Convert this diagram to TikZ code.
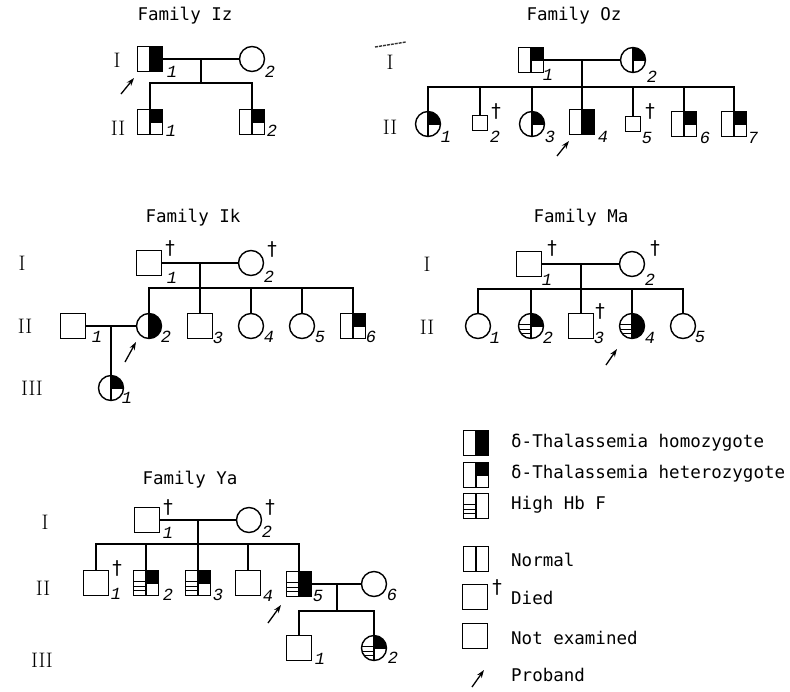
\documentclass[tikz,border=0pt]{standalone}
\usepackage{fontspec}
\newfontfamily\ttf{DejaVu Sans Mono}
\newfontfamily\numf{Liberation Mono}
\newfontfamily\dgf{DejaVu Sans}
\usetikzlibrary{arrows.meta,calc}
\newcommand{\hbfstripes}{\foreach \f in {0.45,0.62,0.79}{\draw[line width=0.9pt] ($(path picture bounding box.north west)!\f!(path picture bounding box.south west)$) -- ($(path picture bounding box.north)!\f!(path picture bounding box.south)$);}}
\newcommand{\cvline}{\draw[line width=1.2pt] (path picture bounding box.north) -- (path picture bounding box.south);}
\newcommand{\rhalf}{\fill (path picture bounding box.north) rectangle (path picture bounding box.south east);}
\newcommand{\rquarter}{\fill (path picture bounding box.north) rectangle (path picture bounding box.east);\draw[line width=1.2pt] (path picture bounding box.center) -- (path picture bounding box.east);}
\tikzset{
  base/.style={draw, line width=1.4pt, inner sep=0pt, minimum size=25pt},
  sq/.style={base, rectangle},
  ci/.style={base, circle},
  smallsq/.style={base, rectangle, minimum size=15pt},
  homoz/.style={path picture={\rhalf\cvline}},
  hetz/.style={path picture={\rquarter\cvline}},
  normz/.style={path picture={\cvline}},
  hbff/.style={path picture={\hbfstripes\cvline}},
  hethbf/.style={path picture={\rquarter\hbfstripes\cvline}},
  homhbf/.style={path picture={\rhalf\hbfstripes\cvline}},
  title/.style={font=\ttf\fontsize{17.5}{20}\selectfont, inner sep=0pt},
  legtext/.style={font=\ttf\fontsize{17.5}{20}\selectfont, inner sep=0pt, anchor=west, text height=12pt, text depth=3pt},
  gen/.style={font=\fontsize{21}{24}\selectfont, inner sep=0pt},
  num/.style={font=\numf\itshape\fontsize{17}{19}\selectfont, inner sep=0pt},
  dg/.style={font=\dgf\fontsize{19}{21}\selectfont, inner sep=0pt},
  line/.style={line width=1.4pt},
  proband/.style={line width=1.3pt, -{Stealth[length=8pt,width=5.5pt]}},
}
\begin{document}
\begin{tikzpicture}[x=1pt,y=-1pt]
\useasboundingbox (0,0) rectangle (790,691);
\fill[white] (0,0) rectangle (790,691);

% ---------------- Family Iz ----------------
\node[title] (tiz) at (185,16) {Family Iz};
\node[gen] (gIz1) at (117,60) {I};
\node[gen] (gIz2) at (118,128) {II};
\node[sq,homoz] (iz11) at (150,59) {};
\node[ci] (iz12) at (252,59) {};
\draw[line] (iz11) -- (iz12);
\coordinate (izm) at (201,59);
\coordinate (izs) at (201,83);
\draw[line] (izm) -- (izs);
\node[sq,hetz] (iz21) at (150,122) {};
\node[sq,hetz] (iz22) at (252,122) {};
\draw[line] (iz21.north) |- (izs) -| (iz22.north);
\node[num] (niz11) at (172,72) {1};
\node[num] (niz12) at (270,72) {2};
\node[num] (niz21) at (171,131) {1};
\node[num] (niz22) at (272,131) {2};
\coordinate (izpa) at (121,94);
\coordinate (izpb) at (134,78);
\draw[proband] (izpa) -- (izpb);

% ---------------- Family Oz ----------------
\node[title] (toz) at (574,16) {Family Oz};
\draw[line width=1.4pt, black!80, dash pattern=on 3pt off 1pt] (375,47) -- (406,42);
\node[gen] (gOz1) at (390,62) {I};
\node[gen] (gOz2) at (390,127) {II};
\node[sq,hetz] (oz11) at (531,60) {};
\node[ci,hetz] (oz12) at (633,60) {};
\draw[line] (oz11) -- (oz12);
\coordinate (ozm) at (582,60);
\coordinate (ozL) at (428,87);
\coordinate (ozR) at (734,87);
\node[ci,hetz] (oz21) at (428,124) {};
\node[smallsq] (oz22) at (480,123) {};
\node[ci,hetz] (oz23) at (532,124) {};
\node[sq,homoz] (oz24) at (582,122) {};
\node[smallsq] (oz25) at (633,124) {};
\node[sq,hetz] (oz26) at (684,124) {};
\node[sq,hetz] (oz27) at (734,124) {};
\draw[line] (oz21.north) -- (ozL) -- (ozR) -- (oz27.north);
\draw[line] (ozm) -- (oz24.north);
\foreach \c in {oz22,oz23,oz25,oz26} \draw[line] (\c.north) -- (\c.north |- ozL);
\node[num] (noz11) at (548,75) {1};
\node[num] (noz12) at (652,77) {2};
\node[num] (noz21) at (446,137) {1};
\node[num] (noz22) at (495,137) {2};
\node[dg] (doz22) at (496,111) {†};
\node[num] (noz23) at (550,137) {3};
\node[num] (noz24) at (603,137) {4};
\node[num] (noz25) at (647,138) {5};
\node[dg] (doz25) at (650,111) {†};
\node[num] (noz26) at (705,138) {6};
\node[num] (noz27) at (753,138) {7};
\coordinate (ozpa) at (557,156);
\coordinate (ozpb) at (569,141);
\draw[proband] (ozpa) -- (ozpb);

% ---------------- Family Ik ----------------
\node[title] (tik) at (193,218) {Family Ik};
\node[gen] (gIk1) at (22,263) {I};
\node[gen] (gIk2) at (25,326) {II};
\node[gen] (gIk3) at (32,388) {III};
\node[sq] (ik11) at (149,263) {};
\node[ci] (ik12) at (251,263) {};
\draw[line] (ik11) -- (ik12);
\coordinate (ikm) at (200,263);
\coordinate (ikL) at (149,288);
\coordinate (ikR) at (353,288);
\node[sq] (ik21) at (73,326) {};
\node[ci,homoz] (ik22) at (149,326) {};
\node[sq] (ik23) at (200,326) {};
\node[ci] (ik24) at (251,326) {};
\node[ci] (ik25) at (302,326) {};
\node[sq,hetz] (ik26) at (353,326) {};
\draw[line] (ikm) -- (ik23.north);
\draw[line] (ik22.north) -- (ikL) -- (ikR) -- (ik26.north);
\foreach \c in {ik24,ik25} \draw[line] (\c.north) -- (\c.north |- ikL);
\draw[line] (ik21) -- (ik22);
\coordinate (ikm2) at (111,326);
\node[ci,hetz] (ik31) at (111,388) {};
\draw[line] (ikm2) -- (ik31.north);
\node[dg] (dik11) at (170,248) {†};
\node[num] (nik11) at (172,278) {1};
\node[dg] (dik12) at (272,249) {†};
\node[num] (nik12) at (269,277) {2};
\node[num] (nik21) at (97,337) {1};
\node[num] (nik22) at (166,337) {2};
\node[num] (nik23) at (218,338) {3};
\node[num] (nik24) at (269,337) {4};
\node[num] (nik25) at (320,337) {5};
\node[num] (nik26) at (371,337) {6};
\node[num] (nik31) at (127,398) {1};
\coordinate (ikpa) at (125,362);
\coordinate (ikpb) at (136,342);
\draw[proband] (ikpa) -- (ikpb);

% ---------------- Family Ma ----------------
\node[title] (tma) at (581,218) {Family Ma};
\node[gen] (gMa1) at (427,264) {I};
\node[gen] (gMa2) at (427,327) {II};
\node[sq] (ma11) at (529,264) {};
\node[ci] (ma12) at (632,264) {};
\draw[line] (ma11) -- (ma12);
\coordinate (mam) at (581,264);
\coordinate (maL) at (478,289);
\coordinate (maR) at (683,289);
\node[ci] (ma21) at (478,326) {};
\node[ci,hethbf] (ma22) at (531,326) {};
\node[sq] (ma23) at (581,326) {};
\node[ci,homhbf] (ma24) at (632,326) {};
\node[ci] (ma25) at (683,326) {};
\draw[line] (mam) -- (ma23.north);
\draw[line] (ma21.north) -- (maL) -- (maR) -- (ma25.north);
\foreach \c in {ma22,ma24} \draw[line] (\c.north) -- (\c.north |- maL);
\node[dg] (dma11) at (552,248) {†};
\node[num] (nma11) at (547,280) {1};
\node[dg] (dma12) at (655,248) {†};
\node[num] (nma12) at (650,280) {2};
\node[num] (nma21) at (495,338) {1};
\node[num] (nma22) at (548,338) {2};
\node[dg] (dma23) at (600,311) {†};
\node[num] (nma23) at (599,338) {3};
\node[num] (nma24) at (650,338) {4};
\node[num] (nma25) at (700,337) {5};
\coordinate (mapa) at (606,365);
\coordinate (mapb) at (617,349);
\draw[proband] (mapa) -- (mapb);

% ---------------- Family Ya ----------------
\node[title] (tya) at (190,480) {Family Ya};
\node[gen] (gYa1) at (45,522) {I};
\node[gen] (gYa2) at (43,588) {II};
\node[gen] (gYa3) at (42,660) {III};
\node[sq] (ya11) at (147,520) {};
\node[ci] (ya12) at (249,520) {};
\draw[line] (ya11) -- (ya12);
\coordinate (yam) at (198,520);
\coordinate (yaL) at (96,544);
\coordinate (yaR) at (299,544);
\node[sq] (ya21) at (96,583) {};
\node[sq,hethbf] (ya22) at (146,583) {};
\node[sq,hethbf] (ya23) at (198,583) {};
\node[sq] (ya24) at (248,583) {};
\node[sq,homhbf] (ya25) at (299,584) {};
\node[ci] (ya26) at (374,584) {};
\draw[line] (yam) -- (ya23.north);
\draw[line] (ya21.north) -- (yaL) -- (yaR) -- (ya25.north);
\foreach \c in {ya22,ya24} \draw[line] (\c.north) -- (\c.north |- yaL);
\draw[line] (ya25) -- (ya26);
\coordinate (yam2) at (337,584);
\coordinate (yas2) at (337,611);
\coordinate (yaL2) at (299,611);
\coordinate (yaR2) at (374,611);
\node[sq] (ya31) at (299,648) {};
\node[ci,hethbf] (ya32) at (374,648) {};
\draw[line] (yam2) -- (yas2);
\draw[line] (ya31.north) -- (yaL2) -- (yaR2) -- (ya32.north);
\node[dg] (dya11) at (168,507) {†};
\node[num] (nya11) at (168,533) {1};
\node[dg] (dya12) at (270,507) {†};
\node[num] (nya12) at (267,532) {2};
\node[dg] (dya21) at (117,568) {†};
\node[num] (nya21) at (116,594) {1};
\node[num] (nya22) at (168,595) {2};
\node[num] (nya23) at (218,595) {3};
\node[num] (nya24) at (268,596) {4};
\node[num] (nya25) at (318,596) {5};
\node[num] (nya26) at (392,595) {6};
\node[num] (nya31) at (320,659) {1};
\node[num] (nya32) at (393,658) {2};
\coordinate (yapa) at (268,623);
\coordinate (yapb) at (281,605);
\draw[proband] (yapa) -- (yapb);

% ---------------- Legend ----------------
\node[sq,homoz] (lg1) at (476,443) {};
\node[legtext] (lt1) at (511,443) {δ-Thalassemia homozygote};
\node[sq,hetz] (lg2) at (476,475) {};
\node[legtext] (lt2) at (511,474) {δ-Thalassemia heterozygote};
\node[sq,hbff] (lg3) at (476,506) {};
\node[legtext] (lt3) at (511,505) {High Hb F};
\node[sq,normz] (lg4) at (476,559) {};
\node[legtext] (lt4) at (511,562) {Normal};
\node[sq] (lg5) at (475,597) {};
\node[dg] (dlg5) at (497,587) {†};
\node[legtext] (lt5) at (511,600) {Died};
\node[sq] (lg6) at (475,636) {};
\node[legtext] (lt6) at (511,640) {Not examined};
\coordinate (lgpa) at (472,687);
\coordinate (lgpb) at (484,670);
\draw[proband] (lgpa) -- (lgpb);
\node[legtext] (lt7) at (511,677) {Proband};
\end{tikzpicture}
\end{document}
